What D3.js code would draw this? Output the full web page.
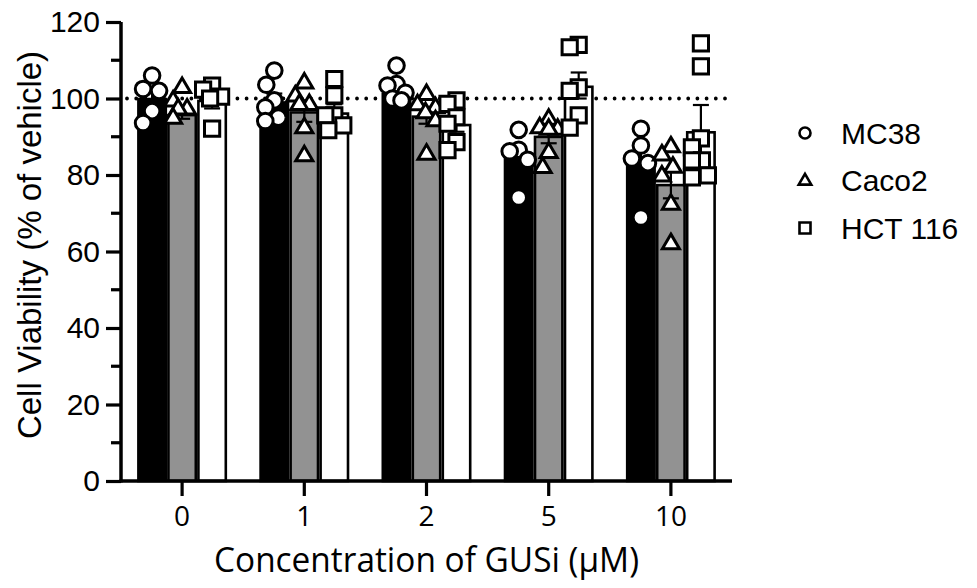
<!DOCTYPE html>
<html><head><meta charset="utf-8">
<script src="https://cdn.jsdelivr.net/npm/d3@7"></script>
<style>
html,body{margin:0;padding:0;background:#fff;}
svg{display:block;}
</style></head>
<body>
<svg id="chart" width="977" height="588"></svg>
<script>
// ---- data ----
const categories = ["0", "1", "2", "5", "10"];
const series = ["MC38", "Caco2", "HCT 116"];

const mc38Points = [
  [106, 102.5, 102, 96.7, 93.6],
  [107.3, 103.6, 99.5, 97.7, 94.1, 95],
  [108.6, 103.8, 103.4, 101.5, 99.5, 100],
  [91.8, 86.6, 86.2, 84, 74.1],
  [92.1, 87.7, 84.3, 83.1, 68.9]
];
const caco2Points = [
  [103, 99.5, 97.4, 97.4, 95],
  [104.2, 100.8, 98.6, 98.6, 92.5, 85.2],
  [101.2, 98.5, 97.7, 96.4, 94.3, 85.6],
  [94.7, 92.5, 92.1, 92.1, 86, 82.1],
  [87.5, 85.4, 82.2, 79.9, 72.5, 62.2]
];
const hctPoints = [
  [103.4, 102.3, 100.5, 100, 92.1],
  [105.1, 100.8, 95.6, 95.6, 93, 91.7],
  [99.5, 98.6, 95.1, 93.4, 88.6, 86.5],
  [114, 113.4, 102.9, 102, 95.6, 92.4],
  [114.4, 108.4, 89.6, 87.2, 83.8, 83.8, 79.9, 79.4]
];
const mc38Mean = [100.2, 99.3, 101.5, 84.7, 83.4];
const caco2Mean = [96, 96.7, 95.6, 90.3, 77.7];
const hctMean = [99.7, 96.4, 93.4, 103.4, 91.5];
const mc38Sem = [2.0, 2.0, 1.4, 2.4, 3.3];
const caco2Sem = [1.3, 2.8, 2.2, 2.0, 3.8];
const hctSem = [2.3, 2.1, 2.1, 3.4, 6.8];
const yTicks = [0, 20, 40, 60, 80, 100, 120];
const yMinorTicks = [10, 30, 50, 70, 90, 110];
const referenceLine = 100;
const xTitle = "Concentration of GUSi (\u03BCM)";
const yTitle = "Cell Viability (% of vehicle)";

// ---- build ----
const pointsBySeries = [mc38Points, caco2Points, hctPoints];
const meanBySeries = [mc38Mean, caco2Mean, hctMean];
const semBySeries = [mc38Sem, caco2Sem, hctSem];
const fills = ["#000000", "#929292", "#ffffff"];
const shapes = ["circle", "triangle", "square"];

const svg = d3.select("#chart");
const pLeft = 121, pRight = 732, pBottom = 481, pTop = 22;

const x0 = d3.scaleBand().domain(categories).range([pLeft, pRight]);
const x1 = d3.scaleBand().domain(series).range([-45, 45]);
const y = d3.scaleLinear().domain([0, 120]).range([pBottom, pTop]);

const bars = [];
categories.forEach((c, ci) => {
  series.forEach((s, si) => {
    bars.push({c, ci, s, si, mean: meanBySeries[si][ci], sem: semBySeries[si][ci], pts: pointsBySeries[si][ci]});
  });
});

function barX(d) { return x0(d.c) + x0.bandwidth() / 2 + x1(d.s); }

// reference dotted line
svg.append("line")
  .attr("x1", pLeft + 6).attr("x2", pRight - 2)
  .attr("y1", y(referenceLine)).attr("y2", y(referenceLine))
  .attr("stroke", "#000").attr("stroke-width", 3.8)
  .attr("stroke-linecap", "round").attr("stroke-dasharray", "0 9.2");

// bars
const sw = 2.6;
svg.append("g").selectAll("rect").data(bars).join("rect")
  .attr("x", d => barX(d) + sw / 2)
  .attr("width", x1.bandwidth() - sw)
  .attr("y", d => y(d.mean) + sw / 2)
  .attr("height", d => y(0) - y(d.mean) - sw / 2)
  .attr("fill", d => fills[d.si])
  .attr("stroke", "#000").attr("stroke-width", sw);

// error bars (SEM)
const eg = svg.append("g").attr("stroke", "#000").attr("stroke-width", 2.2).attr("fill", "none");
bars.forEach(d => {
  const cx = barX(d) + x1.bandwidth() / 2;
  const lo = y(d.mean - d.sem), hi = y(d.mean + d.sem);
  eg.append("line").attr("x1", cx).attr("x2", cx).attr("y1", lo).attr("y2", hi);
  eg.append("line").attr("x1", cx - 8).attr("x2", cx + 8).attr("y1", hi).attr("y2", hi);
  eg.append("line").attr("x1", cx - 8).attr("x2", cx + 8).attr("y1", lo).attr("y2", lo);
});

// point symbols
function symbolPath(shape, size) {
  if (shape === "circle") return d3.symbol(d3.symbolCircle, Math.PI * size * size)();
  if (shape === "square") { const h = size; return `M${-h},${-h}H${h}V${h}H${-h}Z`; }
  const r = size * 1.18; // triangle
  return `M0,${-r}L${r * 0.95},${r * 0.62}L${-r * 0.95},${r * 0.62}Z`;
}

// dodge layout for scattered points
function dodge(vals, cx) {
  const order = vals.map((v, i) => i).sort((a, b) => vals[b] - vals[a]);
  const placed = [];
  const D = 16, maxOff = 9;
  const cands = d3.range(-maxOff, maxOff + 0.01, 1).sort((a, b) => Math.abs(a) - Math.abs(b) || a - b);
  order.forEach(i => {
    const py = y(vals[i]);
    let best = null, bestScore = -1;
    for (const off of cands) {
      let mind = Infinity;
      placed.forEach(p => { mind = Math.min(mind, Math.hypot(p.x - (cx + off), p.y - py)); });
      if (mind >= D) { best = off; break; }
      if (mind > bestScore) { bestScore = mind; best = off; }
    }
    placed.push({x: cx + best, y: py, v: vals[i]});
  });
  return placed;
}

const pg = svg.append("g");
bars.forEach(d => {
  const cx = barX(d) + x1.bandwidth() / 2;
  const pts = dodge(d.pts, cx);
  pg.append("g").selectAll("path").data(pts).join("path")
    .attr("transform", p => `translate(${p.x},${p.y})`)
    .attr("d", symbolPath(shapes[d.si], d.si === 0 ? 7.8 : d.si === 1 ? 7.6 : 7.6))
    .attr("fill", "#fff").attr("stroke", "#000").attr("stroke-width", 3)
    .attr("stroke-linejoin", "miter");
});

// axes
const yAxis = d3.axisLeft(y).tickValues(yTicks).tickSize(15).tickSizeOuter(0).tickPadding(6);
const gy = svg.append("g").attr("transform", `translate(${pLeft},0)`).call(yAxis);
gy.select(".domain").attr("stroke-width", 3.5).attr("d", `M0,${pBottom + 1.5}V${pTop}`);
gy.selectAll(".tick line").attr("stroke-width", 3.2);
gy.selectAll(".tick text").attr("font-family", "Liberation Sans, Arial, sans-serif").attr("font-size", 30).attr("fill", "#000");
const gMinor = svg.append("g").attr("transform", `translate(${pLeft},0)`);
gMinor.selectAll("line").data(yMinorTicks).join("line")
  .attr("x1", -10).attr("x2", 0).attr("y1", d => y(d)).attr("y2", d => y(d))
  .attr("stroke", "#000").attr("stroke-width", 3.2);

const xAxis = d3.axisBottom(x0).tickSize(15).tickSizeOuter(0).tickPadding(10);
const gx = svg.append("g").attr("transform", `translate(0,${pBottom})`).call(xAxis);
gx.select(".domain").attr("stroke-width", 3.5).attr("d", `M${pLeft - 1.5},0H${pRight}`);
gx.selectAll(".tick line").attr("stroke-width", 3.2);
gx.selectAll(".tick text").attr("font-family", "Open Sans, sans-serif").attr("font-size", 28).attr("fill", "#000")
  .attr("transform", "scale(0.9,1)").attr("x", 0);
gx.selectAll(".tick text").each(function () {
  const t = d3.select(this);
  t.attr("transform", null).attr("textLength", null);
});

// axis titles
svg.append("text")
  .attr("x", (pLeft + pRight) / 2).attr("y", 572)
  .attr("text-anchor", "middle")
  .attr("font-family", "Open Sans, sans-serif").attr("font-size", 35)
  .attr("textLength", 425).attr("lengthAdjust", "spacingAndGlyphs")
  .text(xTitle);

svg.append("text")
  .attr("transform", `translate(41,245) rotate(-90)`)
  .attr("text-anchor", "middle")
  .attr("font-family", "Liberation Sans, Arial, sans-serif").attr("font-size", 33)
  .text(yTitle);

// legend
const lg = svg.append("g");
series.forEach((s, i) => {
  const ly = 133 + i * 47.5;
  lg.append("path").attr("transform", `translate(805,${ly})`)
    .attr("d", symbolPath(shapes[i], i === 1 ? 5.6 : 5.5))
    .attr("fill", "#fff").attr("stroke", "#000").attr("stroke-width", 2.6);
  lg.append("text").attr("x", 841).attr("y", ly + 10.5)
    .attr("font-family", "Liberation Sans, Arial, sans-serif").attr("font-size", 30)
    .text(s);
});
</script>
</body></html>
